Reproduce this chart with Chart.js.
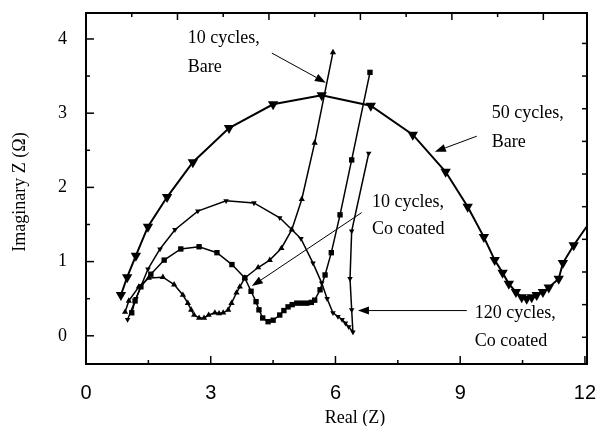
<!DOCTYPE html>
<html>
<head>
<meta charset="utf-8">
<script src="https://cdn.jsdelivr.net/npm/chart.js@4.4.0/dist/chart.umd.min.js"></script>
<style>
  html, body { margin: 0; padding: 0; background: #fff; }
</style>
</head>
<body>
<canvas id="c" width="596" height="426"></canvas>
<script>
// tick labels
const xTicks = [0, 3, 6, 9, 12];
const yTicks = [0, 1, 2, 3, 4];
const xMinor = [1.5, 4.5, 7.5, 10.5];
const yMinor = [-0.5, 0.5, 1.5, 2.5, 3.5];
const topTicks = [1.1, 2.2, 3.3, 4.4, 5.5, 6.6, 7.7, 8.8, 9.9, 11.0];
const rightTicks = [-0.02, 0.42, 0.86, 1.30, 1.74, 2.18, 2.62, 3.06, 3.50, 3.94];

// 10 cycles, bare (up triangles)
const bare10X = [0.94, 1.03, 1.27, 1.51, 1.85, 2.12, 2.33, 2.45, 2.53, 2.6, 2.72, 2.84, 2.95, 3.1, 3.2, 3.3, 3.42, 3.5, 3.62, 3.7, 3.82, 4.14, 4.42, 4.7, 4.95, 5.19, 5.5, 5.94];
const bare10Y = [0.32, 0.47, 0.66, 0.78, 0.79, 0.69, 0.55, 0.44, 0.35, 0.28, 0.24, 0.24, 0.28, 0.31, 0.30, 0.31, 0.35, 0.44, 0.58, 0.66, 0.78, 0.92, 1.02, 1.18, 1.43, 1.84, 2.6, 3.82];

// 10 cycles, Co coated (squares)
const co10X = [1.1, 1.18, 1.32, 1.56, 1.88, 2.28, 2.72, 3.15, 3.51, 3.82, 3.97, 4.09, 4.16, 4.25, 4.38, 4.5, 4.66, 4.76, 4.86, 4.96, 5.07, 5.19, 5.31, 5.42, 5.5, 5.63, 5.75, 5.9, 6.11, 6.39, 6.83];
const co10Y = [0.31, 0.47, 0.66, 0.83, 1.02, 1.17, 1.20, 1.12, 0.96, 0.78, 0.6, 0.46, 0.35, 0.24, 0.19, 0.21, 0.28, 0.34, 0.39, 0.42, 0.44, 0.44, 0.44, 0.45, 0.48, 0.62, 0.82, 1.12, 1.63, 2.37, 3.55];

// 50 cycles, bare (big down triangles)
const bare50X = [0.84, 0.99, 1.2, 1.49, 1.95, 2.57, 3.44, 4.5, 5.67, 6.85, 7.86, 8.65, 9.18, 9.57, 9.83, 10.02, 10.17, 10.34, 10.48, 10.6, 10.72, 10.84, 10.99, 11.13, 11.37, 11.47, 11.73, 12.04];
const bare50Y = [0.55, 0.79, 1.08, 1.47, 1.87, 2.34, 2.80, 3.12, 3.24, 3.10, 2.71, 2.21, 1.74, 1.33, 1.02, 0.85, 0.7, 0.59, 0.52, 0.5, 0.52, 0.55, 0.59, 0.65, 0.77, 0.98, 1.22, 1.47];

// 120 cycles, Co coated (small down triangles)
const co120X = [1.0, 1.2, 1.49, 1.78, 2.14, 2.69, 3.37, 4.04, 4.66, 5.17, 5.46, 5.67, 5.8, 5.94, 6.06, 6.16, 6.24, 6.32, 6.42, 6.39, 6.35, 6.39, 6.8];
const co120Y = [0.22, 0.5, 0.90, 1.17, 1.43, 1.68, 1.82, 1.79, 1.59, 1.31, 0.98, 0.71, 0.5, 0.31, 0.26, 0.22, 0.17, 0.12, 0.05, 0.35, 0.77, 1.41, 2.46];

const pts = (xs, ys) => xs.map((x, i) => ({ x: x, y: ys[i] }));

// labels with arrows, in data units
const notes = [
  { lines: ['10 cycles,', 'Bare'], x: 2.45, y: [3.94, 3.55], from: [4.47, 3.81], to: [5.77, 3.41] },
  { lines: ['50 cycles,', 'Bare'], x: 9.76, y: [2.93, 2.54], from: [9.4, 2.69], to: [8.39, 2.48] },
  { lines: ['10 cycles,', 'Co coated'], x: 6.88, y: [1.73, 1.37], from: [6.63, 1.66], to: [3.99, 0.67] },
  { lines: ['120 cycles,', 'Co coated'], x: 9.35, y: [0.24, -0.14], from: [9.16, 0.34], to: [6.54, 0.34] }
];

const serif = '"Liberation Serif", "Times New Roman", serif';

const frame = {
  id: 'frame',
  afterDraw(chart) {
    const { ctx, chartArea: a, scales: { x, y } } = chart;
    const seg = (x1, y1, x2, y2) => { ctx.beginPath(); ctx.moveTo(x1, y1); ctx.lineTo(x2, y2); ctx.stroke(); };
    ctx.save();
    ctx.strokeStyle = '#000';
    ctx.fillStyle = '#000';
    ctx.lineWidth = 2;
    ctx.strokeRect(a.left, a.top, a.right - a.left, a.bottom - a.top);
    ctx.lineWidth = 1.5;
    yTicks.forEach(v => { const p = y.getPixelForValue(v); seg(a.left, p, a.left + 8, p); });
    yMinor.forEach(v => { const p = y.getPixelForValue(v); if (p > a.top && p < a.bottom) seg(a.left, p, a.left + 4, p); });
    xTicks.forEach(v => { const p = x.getPixelForValue(v); seg(p, a.bottom, p, a.bottom - 8); });
    xMinor.forEach(v => { const p = x.getPixelForValue(v); seg(p, a.bottom, p, a.bottom - 4); });
    topTicks.forEach((v, i) => { const p = x.getPixelForValue(v); seg(p, a.top, p, a.top + (i % 2 ? 7 : 4)); });
    rightTicks.forEach(v => { const p = y.getPixelForValue(v); seg(a.right, p, a.right - 5, p); });

    // annotations
    ctx.font = '18px ' + serif;
    ctx.textAlign = 'left';
    ctx.textBaseline = 'alphabetic';
    ctx.lineWidth = 1;
    notes.forEach(n => {
      n.lines.forEach((t, i) => ctx.fillText(t, x.getPixelForValue(n.x), y.getPixelForValue(n.y[i])));
      const x1 = x.getPixelForValue(n.from[0]), y1 = y.getPixelForValue(n.from[1]);
      const x2 = x.getPixelForValue(n.to[0]), y2 = y.getPixelForValue(n.to[1]);
      const ang = Math.atan2(y2 - y1, x2 - x1);
      const len = 11, half = 4;
      const bx = x2 - len * Math.cos(ang), by = y2 - len * Math.sin(ang);
      seg(x1, y1, bx, by);
      ctx.beginPath();
      ctx.moveTo(x2, y2);
      ctx.lineTo(bx + half * Math.sin(ang), by - half * Math.cos(ang));
      ctx.lineTo(bx - half * Math.sin(ang), by + half * Math.cos(ang));
      ctx.closePath();
      ctx.fill();
    });

    // axis titles
    ctx.textAlign = 'center';
    ctx.textBaseline = 'middle';
    ctx.fillText('Real (Z)', 355, 418);
    ctx.translate(20, 192);
    ctx.rotate(-Math.PI / 2);
    ctx.fillText('Imaginary Z (\u03A9)', 0, 0);
    ctx.restore();
  }
};

const series = (data, style, width, radius, rot) => ({
  data: data,
  showLine: true,
  borderColor: '#000',
  backgroundColor: '#000',
  borderWidth: width,
  tension: 0,
  pointStyle: style,
  pointRadius: radius,
  pointRotation: rot,
  pointBorderWidth: 0,
  pointBackgroundColor: '#000'
});

const last50 = bare50X.length - 1;

new Chart(document.getElementById('c').getContext('2d'), {
  type: 'scatter',
  data: {
    datasets: [
      series(pts(bare50X, bare50Y), 'triangle', 2, c => c.dataIndex === last50 ? 0 : 6, 180),
      series(pts(co120X, co120Y), 'triangle', 1.5, 3.2, 180),
      series(pts(co10X, co10Y), 'rect', 1.5, 3.8, 0),
      series(pts(bare10X, bare10Y), 'triangle', 1.5, 3.6, 0)
    ]
  },
  options: {
    responsive: false,
    animation: false,
    events: [],
    layout: { padding: { top: 13, right: 9, left: 0, bottom: 0 } },
    plugins: { legend: { display: false }, tooltip: { enabled: false } },
    scales: {
      x: {
        type: 'linear',
        min: 0,
        max: 12.05,
        afterBuildTicks: s => { s.ticks = xTicks.map(v => ({ value: v })); },
        afterFit: s => { s.height = 62; s.paddingLeft = 0; s.paddingRight = 0; },
        grid: { display: false },
        border: { display: false },
        ticks: { color: '#000', padding: 9, maxRotation: 0, font: { family: '"Liberation Sans", Arial, sans-serif', size: 20 } }
      },
      y: {
        type: 'linear',
        min: -0.38,
        max: 4.35,
        afterBuildTicks: s => { s.ticks = yTicks.map(v => ({ value: v })); },
        afterFit: s => { s.width = 86; s.paddingTop = 0; s.paddingBottom = 0; },
        grid: { display: false },
        border: { display: false },
        ticks: { color: '#000', padding: 11, font: { family: serif, size: 18 } }
      }
    }
  },
  plugins: [frame]
});
</script>
</body>
</html>
